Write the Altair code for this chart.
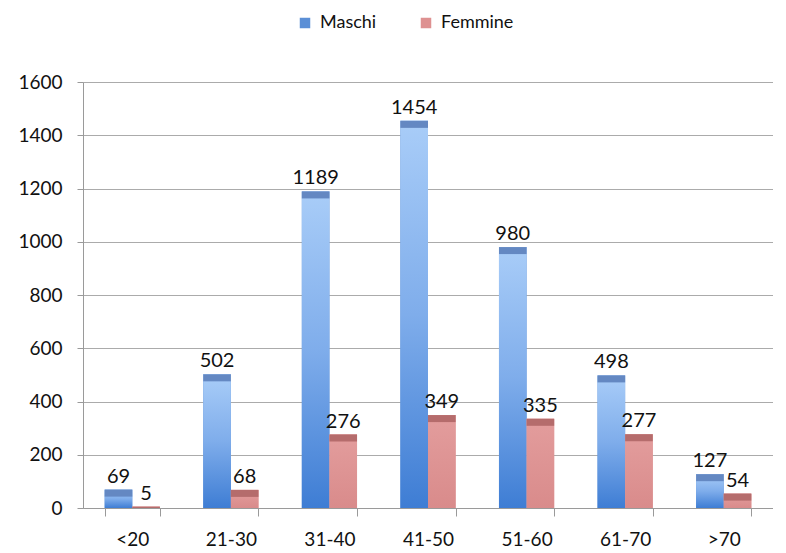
import altair as alt
import pandas as pd

categories = ["<20", "21-30", "31-40", "41-50", "51-60", "61-70", ">70"]
maschi = [69, 502, 1189, 1454, 980, 498, 127]
femmine = [5, 68, 276, 349, 335, 277, 54]
series = ["Maschi", "Femmine"]
legend_colors = ["#5B8FD6", "#DE9191"]

rows = []
for c, m, f in zip(categories, maschi, femmine):
    rows.append({"eta": c, "sesso": "Maschi", "valore": m})
    rows.append({"eta": c, "sesso": "Femmine", "valore": f})
df = pd.DataFrame(rows)

FONT = "Lato"
W, H = 690, 426

x_enc = alt.X(
    "eta:N", sort=categories,
    scale=alt.Scale(paddingInner=0.44, paddingOuter=0.22),
    axis=alt.Axis(title=None, labelAngle=0, labelFont=FONT, labelFontSize=19,
                  labelColor="#111111", labelPadding=14, tickBand="extent",
                  tickSize=8, tickColor="#9A9A9A", domainColor="#9A9A9A",
                  grid=False),
)
xo_enc = alt.XOffset("sesso:N", sort=series,
                     scale=alt.Scale(paddingInner=0, paddingOuter=0))
y_enc = alt.Y(
    "valore:Q", scale=alt.Scale(domain=[0, 1600]),
    axis=alt.Axis(title=None, values=list(range(0, 1601, 200)), format="d",
                  labelFont=FONT, labelFontSize=19, labelColor="#111111",
                  labelPadding=15, tickSize=6, tickColor="#9A9A9A",
                  domainColor="#9A9A9A", gridColor="#ABABAB", gridWidth=1),
)

base = alt.Chart(df)

legend_bars = base.mark_bar().encode(
    x=x_enc, xOffset=xo_enc, y=y_enc,
    color=alt.Color("sesso:N", sort=series,
                    scale=alt.Scale(domain=series, range=legend_colors),
                    legend=alt.Legend(title=None, orient="none", legendX=213,
                                      legendY=-68, direction="horizontal",
                                      symbolType="square", symbolSize=110,
                                      symbolStrokeWidth=0,
                                      labelFont=FONT, labelFontSize=18,
                                      labelColor="#111111", columnPadding=40,
                                      labelOffset=6)),
)

blue_grad = alt.Gradient(
    gradient="linear", x1=0, x2=0, y1=0, y2=1,
    stops=[alt.GradientStop(offset=0, color="#A9CDF8"),
           alt.GradientStop(offset=0.5, color="#7FADEB"),
           alt.GradientStop(offset=1, color="#3E7DD4")],
)
pink_grad = alt.Gradient(
    gradient="linear", x1=0, x2=0, y1=0, y2=1,
    stops=[alt.GradientStop(offset=0, color="#E39D9D"),
           alt.GradientStop(offset=1, color="#D98B8B")],
)

maschi_bars = base.transform_filter(alt.datum.sesso == "Maschi").mark_bar(
    color=blue_grad).encode(x=x_enc, xOffset=xo_enc, y=y_enc)
femmine_bars = base.transform_filter(alt.datum.sesso == "Femmine").mark_bar(
    color=pink_grad).encode(x=x_enc, xOffset=xo_enc, y=y_enc)

sub_w = (W / 7) * 0.56 / 2
maschi_cap = base.transform_filter(alt.datum.sesso == "Maschi").mark_tick(
    color="#6488C2", thickness=7, size=sub_w, yOffset=3.5, opacity=1, clip=True
).encode(x=x_enc, xOffset=xo_enc, y=y_enc)
femmine_cap = base.transform_filter(alt.datum.sesso == "Femmine").mark_tick(
    color="#B56C6C", thickness=7, size=sub_w, yOffset=3.5, opacity=1, clip=True
).encode(x=x_enc, xOffset=xo_enc, y=y_enc)

labels = base.mark_text(baseline="bottom", dy=-3, font=FONT, fontSize=20,
                        color="#111111").encode(
    x=x_enc, xOffset=xo_enc, y=y_enc, text="valore:Q")

chart = alt.layer(
    legend_bars, maschi_bars, femmine_bars, maschi_cap, femmine_cap, labels
).properties(
    width=W, height=H,
    autosize=alt.AutoSizeParams(type="none"),
    padding={"left": 75, "top": 74, "right": 0, "bottom": 40},
).configure_view(stroke=None).configure(background="white")

chart.save("out.html", embed_options={"renderer": "svg", "actions": False})
